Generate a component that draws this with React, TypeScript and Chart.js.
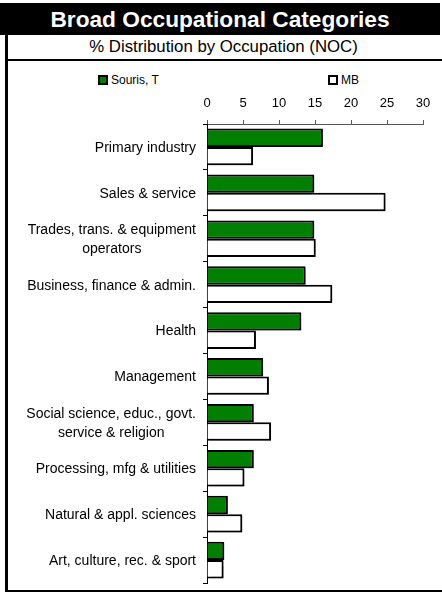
import React, { useEffect, useRef } from "react";
import { Chart, registerables } from "chart.js";

Chart.register(...registerables);

const title = "Broad Occupational Categories";
const subtitle = "% Distribution by Occupation (NOC)";
const categories: (string | string[])[] = [
  "Primary industry",
  "Sales & service",
  ["Trades, trans. & equipment", "operators"],
  "Business, finance & admin.",
  "Health",
  "Management",
  ["Social science, educ., govt.", "service & religion"],
  "Processing, mfg & utilities",
  "Natural & appl. sciences",
  "Art, culture, rec. & sport",
];
const seriesNames = ["Souris, T", "MB"];
const sourisValues = [16.1, 14.9, 14.9, 13.7, 13.1, 7.8, 6.5, 6.5, 2.9, 2.4];
const mbValues = [6.4, 24.8, 15.1, 17.4, 6.8, 8.6, 8.9, 5.2, 4.9, 2.3];
const xTicks = [0, 5, 10, 15, 20, 25, 30];

const GREEN = "#007f00";
const FONT = "'Liberation Sans', Arial, sans-serif";

const shadowPlugin = {
  id: "barShadow",
  beforeDatasetsDraw(chart: any) {
    const ctx = chart.ctx;
    ctx.save();
    ctx.shadowColor = "rgba(0,0,0,0.3)";
    ctx.shadowOffsetX = 2;
    ctx.shadowOffsetY = 2;
    ctx.shadowBlur = 1;
  },
  afterDatasetsDraw(chart: any) {
    chart.ctx.restore();
  },
};

// Draws category labels as right-aligned blocks whose lines are centred
const centeredLabelsPlugin = {
  id: "centeredLabels",
  afterDraw(chart: any) {
    const scale = chart.scales.y;
    const ctx = chart.ctx;
    ctx.save();
    ctx.font = `14px ${FONT}`;
    ctx.fillStyle = "#000";
    ctx.textAlign = "center";
    ctx.textBaseline = "middle";
    const labels = chart.data.labels as (string | string[])[];
    labels.forEach((lab, i) => {
      const lines = Array.isArray(lab) ? lab : [lab];
      const maxW = Math.max(...lines.map((l) => ctx.measureText(l).width));
      const right = scale.right - 11;
      const cx = right - maxW / 2;
      const y = scale.getPixelForValue(i);
      const lh = 19;
      lines.forEach((l, j) => {
        ctx.fillText(l, cx, y + 1 + (j - (lines.length - 1) / 2) * lh);
      });
    });
    ctx.restore();
  },
};

export default function App() {
  const ref = useRef<HTMLCanvasElement | null>(null);

  useEffect(() => {
    document.body.style.margin = "0";
    if (!ref.current) return;
    const chart = new Chart(ref.current, {
      type: "bar",
      data: {
        labels: categories,
        datasets: [
          {
            label: seriesNames[0],
            data: sourisValues,
            backgroundColor: GREEN,
            borderColor: "#000",
            borderWidth: 2,
            categoryPercentage: 0.8,
            barPercentage: 1.0,
          },
          {
            label: seriesNames[1],
            data: mbValues,
            backgroundColor: "#fff",
            borderColor: "#000",
            borderWidth: 2,
            categoryPercentage: 0.8,
            barPercentage: 1.0,
          },
        ],
      },
      options: {
        indexAxis: "y",
        animation: false,
        responsive: false,
        maintainAspectRatio: false,
        layout: { padding: { left: 0, right: 19, top: 0, bottom: 7 } },
        plugins: {
          legend: { display: false },
          tooltip: { enabled: false },
        },
        scales: {
          x: {
            position: "top",
            min: 0,
            max: 30,
            afterBuildTicks(scale: any) {
              scale.ticks = xTicks.map((v) => ({ value: v }));
            },
            afterFit(scale: any) {
              scale.height = 62;
            },
            grid: {
              display: true,
              drawOnChartArea: false,
              drawTicks: true,
              tickLength: 4,
              color: "#555",
            },
            border: { display: true, color: "#555", width: 1 },
            ticks: {
              color: "#000",
              padding: 9,
              font: { family: FONT, size: 13 },
            },
          },
          y: {
            afterFit(scale: any) {
              scale.width = 199;
            },
            grid: {
              display: true,
              offset: true,
              drawOnChartArea: false,
              drawTicks: true,
              tickLength: 4,
              color: "#000",
            },
            border: { display: true, color: "#000", width: 1 },
            ticks: { display: false },
          },
        },
      },
      plugins: [shadowPlugin, centeredLabelsPlugin],
    } as any);
    return () => chart.destroy();
  }, []);

  const legendItem = (i: number, left: number, fill: string) => (
    <div
      style={{
        position: "absolute",
        left,
        top: 73,
        display: "flex",
        alignItems: "center",
        fontFamily: FONT,
        fontSize: 12,
        color: "#000",
      }}
    >
      <span
        style={{
          display: "inline-block",
          width: 6,
          height: 6,
          border: "2px solid #000",
          background: fill,
          marginRight: 3,
        }}
      />
      {seriesNames[i]}
    </div>
  );

  return (
    <div style={{ position: "relative", width: 442, height: 594, background: "#fff", overflow: "hidden" }}>
      <div
        style={{
          position: "absolute",
          left: 0,
          top: 3,
          width: 440,
          height: 32,
          background: "#000",
          color: "#fff",
          fontFamily: FONT,
          fontWeight: "bold",
          fontSize: 22.7,
          lineHeight: "32px",
          textAlign: "center",
        }}
      >
        {title}
      </div>
      <div
        style={{
          position: "absolute",
          left: 5,
          top: 35,
          width: 437,
          height: 24,
          borderBottom: "2px solid #000",
          fontFamily: FONT,
          fontSize: 16.8,
          lineHeight: "24px",
          textAlign: "center",
          color: "#000",
        }}
      >
        {subtitle}
      </div>
      <div style={{ position: "absolute", left: 5, top: 35, width: 3, height: 557, background: "#000" }} />
      <div style={{ position: "absolute", left: 5, top: 590, width: 437, height: 2, background: "#000" }} />
      {legendItem(0, 98, GREEN)}
      {legendItem(1, 328, "#fff")}
      <canvas
        ref={ref}
        width={434}
        height={528}
        style={{ position: "absolute", left: 8, top: 62, width: 434, height: 528 }}
      />
    </div>
  );
}
